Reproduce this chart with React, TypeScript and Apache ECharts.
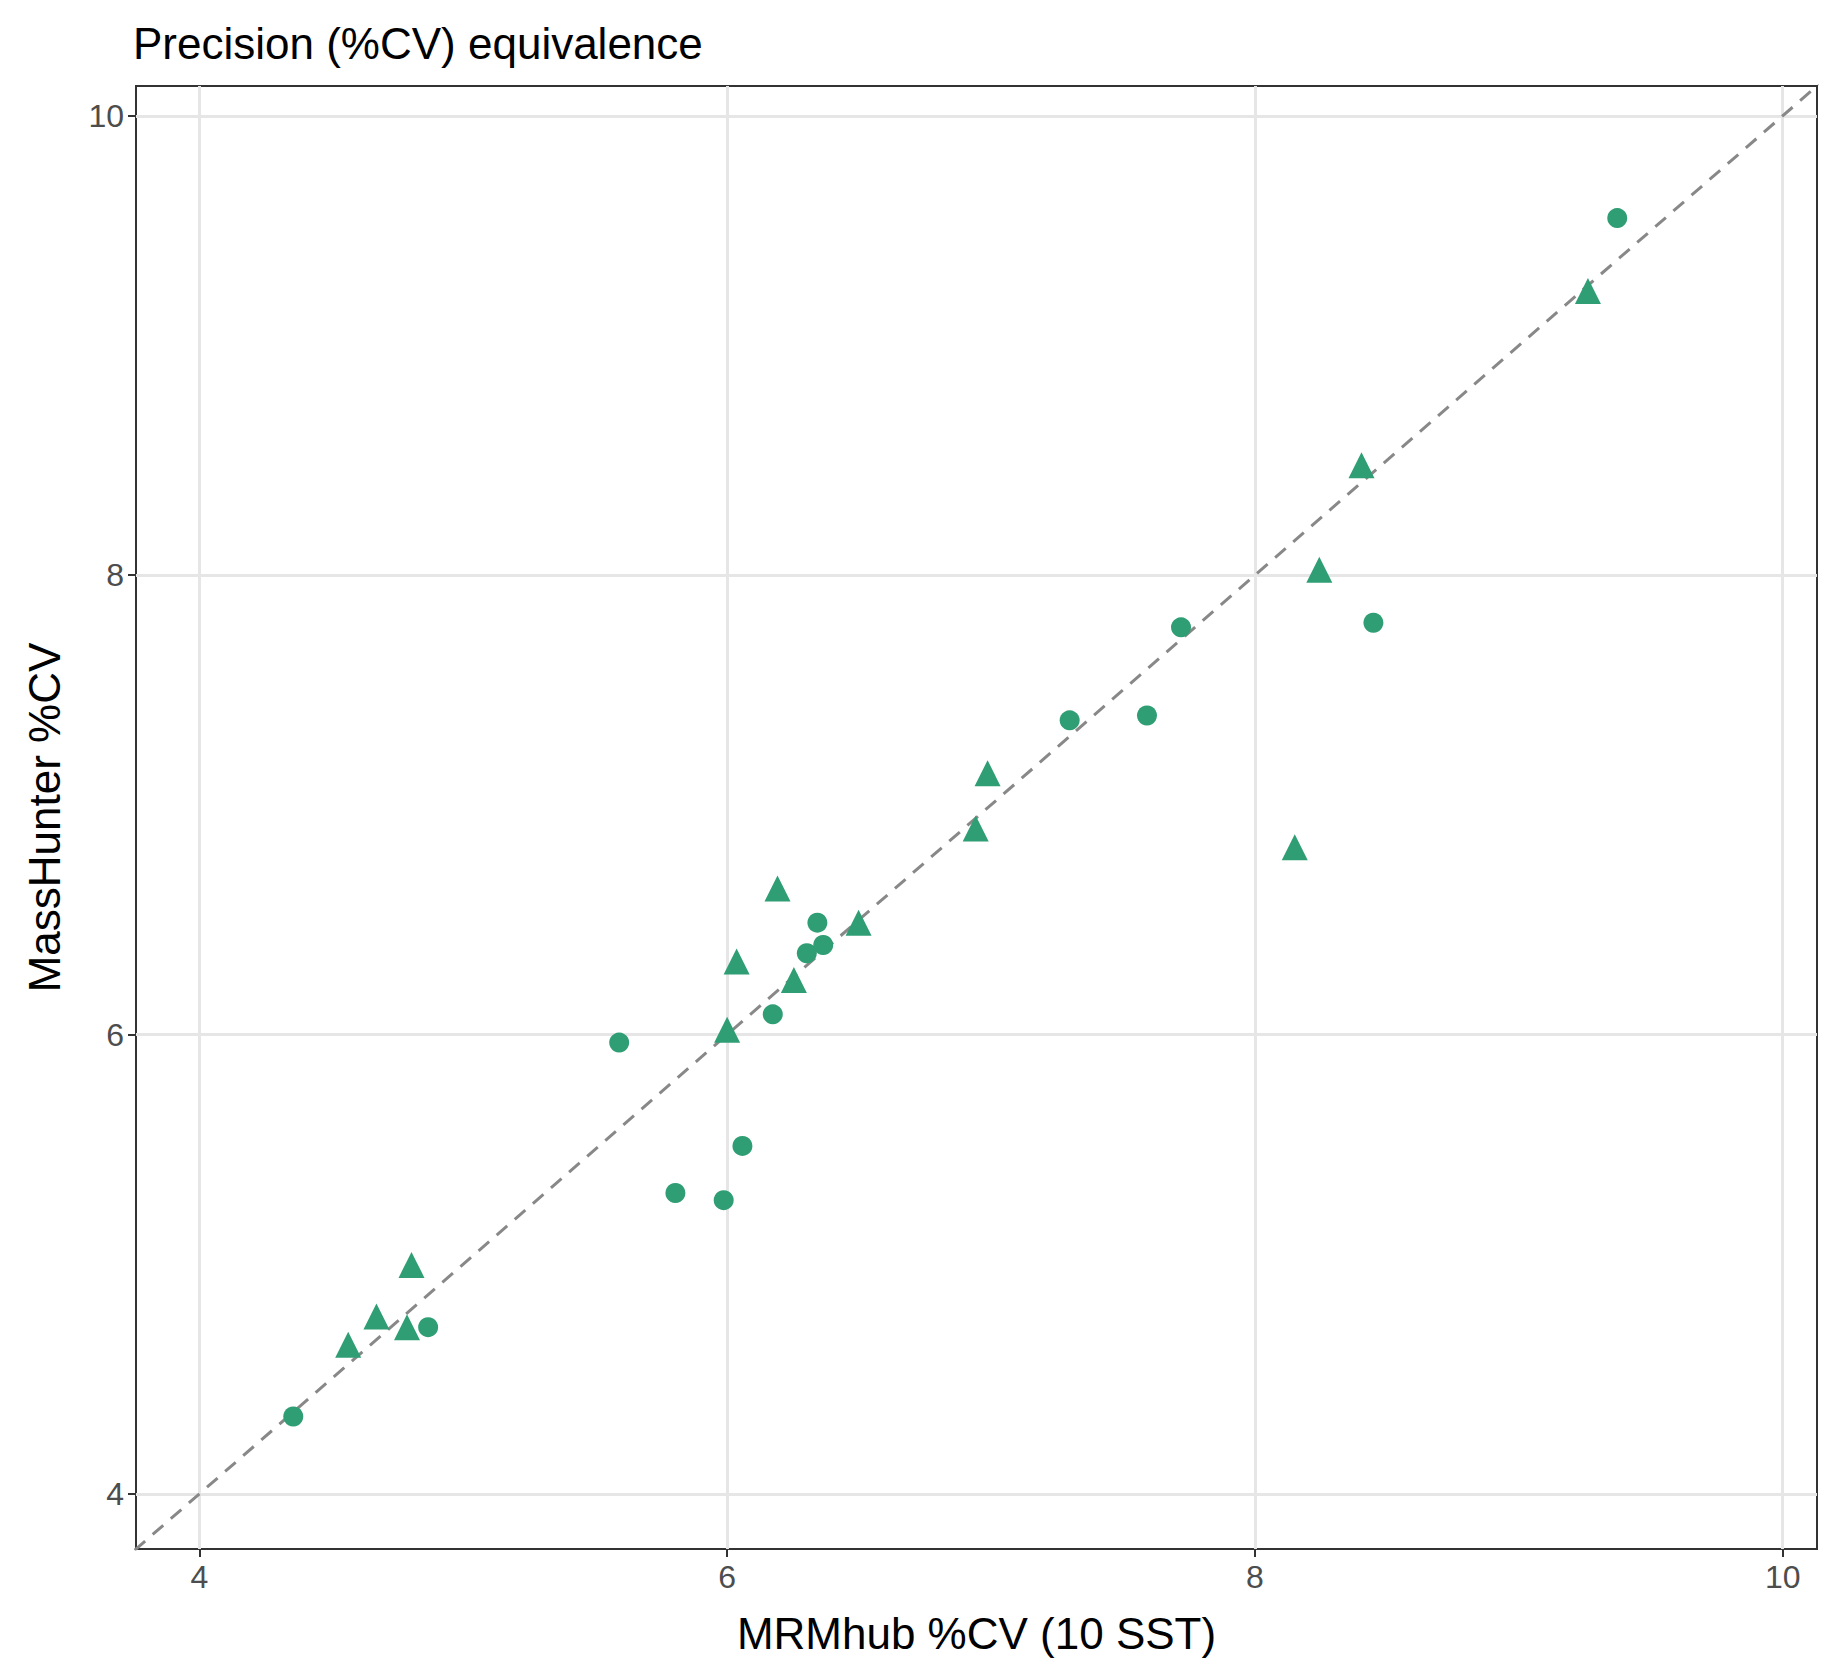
import { useEffect, useRef } from "react";
import * as echarts from "echarts";

const circleX = [4.356, 4.867, 5.591, 5.804, 5.987, 6.058, 6.173, 6.302, 6.342, 6.364, 7.298, 7.591, 7.72, 8.449, 9.373];
const circleY = [4.337, 4.726, 5.965, 5.31, 5.279, 5.515, 6.088, 6.354, 6.487, 6.39, 7.368, 7.389, 7.773, 7.793, 9.555];
const triX = [4.564, 4.671, 4.787, 4.804, 6.0, 6.036, 6.191, 6.253, 6.498, 6.942, 6.987, 8.151, 8.244, 8.404, 9.262];
const triY = [4.649, 4.772, 4.726, 4.997, 6.021, 6.318, 6.636, 6.237, 6.487, 6.897, 7.138, 6.815, 8.024, 8.479, 9.237];
const ticks = [4, 6, 8, 10];
const identity = [3, 11];

const green = "#2f9e74";
const font = "'Liberation Sans', Arial, sans-serif";

export default function App() {
  const ref = useRef<HTMLDivElement>(null);
  useEffect(() => {
    document.body.style.margin = "0";
    if (!ref.current) return;
    const chart = echarts.init(ref.current, undefined, { renderer: "svg" });
    const axis = (name: string, gap: number) => ({
      type: "value",
      min: 3.76,
      max: 10.13,
      name,
      nameLocation: "middle",
      nameGap: gap,
      nameTextStyle: { fontSize: 44, color: "#000", fontFamily: font },
      axisLine: { show: false },
      axisTick: { show: true, length: 8, lineStyle: { color: "#333", width: 2 }, customValues: ticks },
      axisLabel: { fontSize: 32, color: "#4d4d4d", fontFamily: font, margin: 12, customValues: ticks },
      splitLine: { show: true, lineStyle: { color: "#e6e6e6", width: 3 } },
    });
    chart.setOption({
      animation: false,
      backgroundColor: "#fff",
      title: {
        text: "Precision (%CV) equivalence",
        left: 128,
        top: 16,
        textStyle: { fontSize: 44, fontWeight: "normal", color: "#000", fontFamily: font },
      },
      grid: { left: 136, right: 22, top: 86, bottom: 131, show: true, borderColor: "#333", borderWidth: 2, backgroundColor: "transparent" },
      xAxis: axis("MRMhub %CV (10 SST)", 62),
      yAxis: axis("MassHunter %CV", 70),
      series: [
        {
          type: "line",
          data: identity.map((v) => [v, v]),
          symbol: "none",
          clip: true,
          lineStyle: { color: "#888", width: 3, type: [14, 10] },
          z: 1,
        },
        {
          type: "scatter",
          data: circleX.map((x, i) => [x, circleY[i]]),
          symbol: "circle",
          symbolSize: 20,
          itemStyle: { color: green, opacity: 1 },
          z: 3,
        },
        {
          type: "scatter",
          data: triX.map((x, i) => [x, triY[i]]),
          symbol: "triangle",
          symbolSize: 26,
          itemStyle: { color: green, opacity: 1 },
          z: 3,
        },
      ],
    });
    return () => chart.dispose();
  }, []);
  return <div ref={ref} style={{ width: 1839, height: 1680 }} />;
}
